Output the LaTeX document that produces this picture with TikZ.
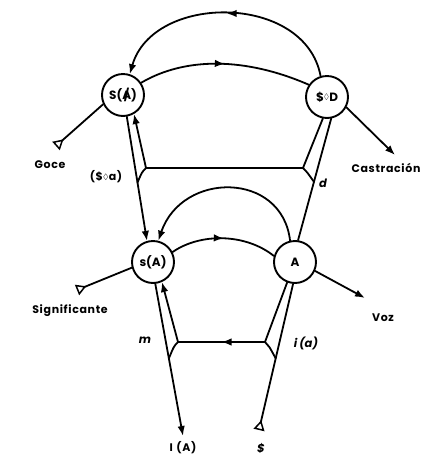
\documentclass[tikz,border=0pt]{standalone}
\usepackage{amsmath}
\usepackage{amssymb}
\usepackage{fontspec}
\setmainfont{Poppins}
\usepackage{tikz}
\usetikzlibrary{arrows.meta}
\usetikzlibrary{positioning,calc}
\usetikzlibrary{decorations.markings}
\newcommand{\barA}{\ooalign{A\cr\hidewidth/\hidewidth\cr}}
\newcommand{\poin}{\raisebox{0.2ex}{$\scriptstyle\boldsymbol{\Diamond}$}}

\begin{document}
\begin{tikzpicture}[x=1pt,y=-1pt,>=Latex,line join=round,line cap=round]
% -------------------------------------------------
% Styles
% -------------------------------------------------
\tikzset{
  place/.style={circle, draw=black, line width=1.9pt, minimum size=42pt, inner sep=0pt, font=\fontsize{12}{12}\bfseries},
  vec/.style={draw=black, line width=1.8pt},
  tip/.style={-{Latex[length=10pt,width=7.5pt]}},
  origin/.style={-{Triangle[open,reversed,length=10pt,width=11pt,line width=1.5pt]}},
  midarrow/.style={postaction={decorate}, decoration={markings, mark=at position #1 with {\arrow{Latex[length=10pt,width=7.5pt]}}}},
  midarrow/.default=0.55,
  lab/.style={font=\fontsize{11}{11}\bfseries\addfontfeature{LetterSpace=6}},
  sym/.style={font=\fontsize{11.5}{11.5}\bfseries\itshape},
}
\useasboundingbox (0,0) rectangle (427,464);
% -------------------------------------------------
% places
% -------------------------------------------------
\node[place] (SA) at (123,95) {S(\barA)};
\node[place] (SD) at (327,97) {\$\poin D};
\node[place] (sA) at (153,262) {s(A)};
\node[place] (A) at (295,262) {A};

% -------------------------------------------------
% upper chain
% -------------------------------------------------
\draw[vec,midarrow=0.5,tip] (SD.107) .. controls (305,-7) and (153,-7) .. (SA.72);
\draw[vec,midarrow=0.5] (SA.34) .. controls (185,57) and (245,57) .. (SD.146);

\coordinate (goce) at (56,146);
\coordinate (castr) at (395,155);
\draw[vec,origin] (SA.205) -- (goce);
\draw[vec,tip] (SD.-28) -- (castr);

% left and right verticals, middle level
\coordinate (J1) at (146,168);
\coordinate (J2) at (303,168);
\coordinate (J1m) at ($(SA.-80)!0.53!(sA.106)$);
\coordinate (J2m) at ($(SD.-79)!0.52!(A.82)$);
\draw[vec,tip] (SA.-80) -- (sA.106);
\draw[vec,tip] (J1) -- (SA.-60);
\draw[vec] (J1) .. controls +(-4,4) .. (J1m);
\draw[vec] (A.82) -- (SD.-79);
\draw[vec] (J2) -- (SD.-101);
\draw[vec] (J2) .. controls +(4,4) .. (J2m);
\draw[vec] (J1) -- (J2);

% -------------------------------------------------
% lower chain
% -------------------------------------------------
\draw[vec,tip] (A.103) .. controls (282,171) and (182,171) .. (sA.76);
\draw[vec,midarrow=0.5] (sA.27) .. controls (200,233) and (245,233) .. (A.164);

\coordinate (signif) at (77,290);
\coordinate (voz) at (365,298);
\draw[vec,origin] (sA.195) -- (signif);
\draw[vec,tip] (A.-24) -- (voz);

% bottom verticals
\coordinate (IA) at (183,436);
\coordinate (barS) at (259,430);
\coordinate (J3) at (178,342);
\coordinate (J4) at (265,342);
\coordinate (J3m) at ($(sA.-84)!0.49!(IA)$);
\coordinate (J4m) at ($(A.-95)!0.51!(barS)$);
\draw[vec,tip] (sA.-84) -- (IA);
\draw[vec,tip] (J3) -- (sA.-66);
\draw[vec] (J3) .. controls +(-4,4) .. (J3m);
\draw[vec,origin] (A.-95) -- (barS);
\draw[vec] (J4) -- (A.-111);
\draw[vec] (J4) .. controls +(4,4) .. (J4m);
\draw[vec,midarrow=0.5] (J4) -- (J3);

% -------------------------------------------------
% labels
% -------------------------------------------------
\node[lab] (goceL) at (50,165) {Goce};
\node[lab] (poinL) at (106,177) {(\$\poin a)};
\node[lab] (castrL) at (386,168) {Castración};
\node[sym] (dL) at (323,183) {d};
\node[lab] (signifL) at (70,311) {Significante};
\node[lab] (vozL) at (383,318) {Voz};
\node[sym] (mL) at (145,340) {m};
\node[sym] (iaL) at (306,343) {i\,(a)};
\node[lab] (IAL) at (183,448) {I\,\,(A)};
\node[sym] (barSL) at (261,448) {\$};

\end{tikzpicture}
\end{document}
